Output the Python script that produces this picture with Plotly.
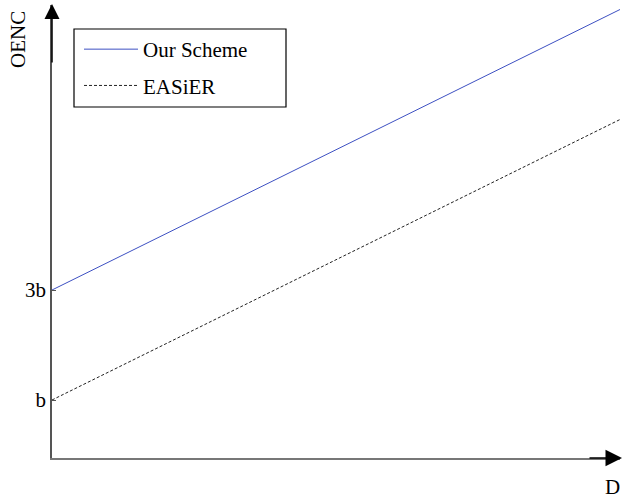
import plotly.graph_objects as go

# data
x_vals = [0, 10]
our_scheme = [3.0, 8.1]
easier = [1.0, 6.1]
tick_vals = [1, 3]
tick_text = ["b", "3b"]
series_names = ["Our Scheme", "EASiER"]

W, H = 623, 500
L, R, T, B = 52, 3, 5, 42
pw, ph = W - L - R, H - T - B

def px_x(p):
    return (p - L) / pw

def px_y(p):
    return (H - B - p) / ph

FONT = "Liberation Serif"

fig = go.Figure()
fig.add_trace(go.Scatter(x=x_vals, y=our_scheme, mode="lines", name=series_names[0],
                         line=dict(color="#3d50c2", width=1), legendgroup="a"))
fig.add_trace(go.Scatter(x=x_vals, y=easier, mode="lines", name=series_names[1],
                         line=dict(color="#222222", width=1, dash="3px,2px"), legendgroup="b"))

fig.update_layout(
    width=W, height=H,
    margin=dict(l=L, r=R, t=T, b=B),
    paper_bgcolor="white", plot_bgcolor="white",
    font=dict(family=FONT, size=21, color="black"),
    showlegend=True,
    legend=dict(x=px_x(79), y=px_y(29), xanchor="left", yanchor="top",
                bgcolor="rgba(0,0,0,0)", borderwidth=0, itemwidth=54,
                tracegroupgap=6, font=dict(family=FONT, size=21, color="black")),
    xaxis=dict(range=[0, 10], showgrid=False, zeroline=False, showticklabels=False,
               ticks="", showline=True, linecolor="#777777", linewidth=1.5, fixedrange=True),
    yaxis=dict(range=[-0.0545, 8.182], showgrid=False, zeroline=False,
               tickmode="array", tickvals=tick_vals, ticktext=tick_text,
               ticks="inside", ticklen=4, tickcolor="#555555",
               showline=True, linecolor="#555555", linewidth=1.5, fixedrange=True,
               tickfont=dict(family=FONT, size=21, color="black")),
)

# legend box
fig.add_shape(type="rect", xref="paper", yref="paper",
              x0=px_x(74), x1=px_x(286), y0=px_y(107), y1=px_y(29),
              line=dict(color="black", width=1.2), fillcolor="rgba(0,0,0,0)")

# axis arrows
fig.add_annotation(xref="paper", yref="paper", axref="pixel", ayref="pixel",
                   x=px_x(622), y=0, ax=-34, ay=0, text="", showarrow=True,
                   arrowhead=2, arrowsize=2.2, arrowwidth=1.5, arrowcolor="black")
fig.add_annotation(xref="paper", yref="paper", axref="pixel", ayref="pixel",
                   x=0, y=px_y(4), ax=0, ay=60, text="", showarrow=True,
                   arrowhead=2, arrowsize=2.0, arrowwidth=1.5, arrowcolor="black")

# axis titles
fig.add_annotation(xref="paper", yref="paper", x=px_x(18), y=px_y(40), text="OENC",
                   showarrow=False, textangle=-90, xanchor="center", yanchor="middle",
                   font=dict(family=FONT, size=21, color="black"))
fig.add_annotation(xref="paper", yref="paper", x=px_x(612), y=px_y(487), text="D",
                   showarrow=False, xanchor="center", yanchor="middle",
                   font=dict(family=FONT, size=21, color="black"))

fig.write_html("out.html")
